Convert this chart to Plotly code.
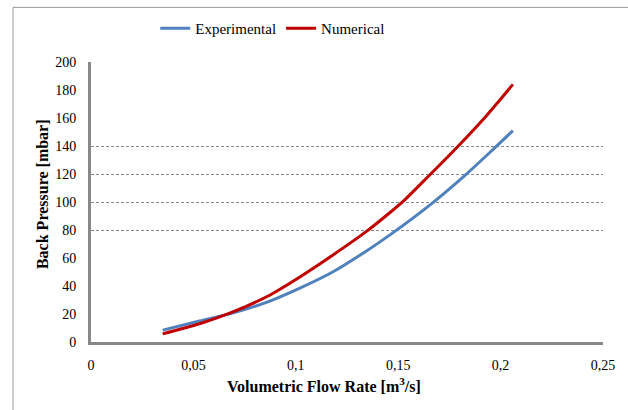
import plotly.graph_objects as go

# Data
exp_x = [0.035, 0.053, 0.069, 0.086, 0.102, 0.118, 0.1345, 0.146, 0.1665, 0.1826, 0.197, 0.206]
exp_y = [8.5, 15.0, 20.6, 28.5, 38.5, 50.0, 65.0, 76.5, 99.0, 119.0, 138.5, 151.0]

num_x = [0.035, 0.053, 0.069, 0.086, 0.102, 0.118, 0.1345, 0.146, 0.1528, 0.1655, 0.179, 0.193, 0.206]
num_y = [5.8, 13.0, 21.3, 32.5, 46.5, 62.0, 79.0, 92.5, 101.0, 119.5, 139.5, 161.5, 184.0]

x_ticks = [0, 0.05, 0.1, 0.15, 0.2, 0.25]
y_ticks = [0, 20, 40, 60, 80, 100, 120, 140, 160, 180, 200]
grid_ticks = [80, 100, 120, 140]

FONT = "Liberation Serif"

fig = go.Figure()
fig.add_trace(go.Scatter(x=exp_x, y=exp_y, mode="lines", name="Experimental",
                         line=dict(color="#4F81BD", width=3, shape="spline", smoothing=0.8)))
fig.add_trace(go.Scatter(x=num_x, y=num_y, mode="lines", name="Numerical",
                         line=dict(color="#C00000", width=3, shape="spline", smoothing=0.8)))
# invisible trace to carry the partial grid axis
fig.add_trace(go.Scatter(x=[exp_x[0]], y=[exp_y[0]], yaxis="y2", mode="markers",
                         marker=dict(opacity=0), showlegend=False, hoverinfo="skip"))

fig.update_layout(
    width=628, height=410,
    margin=dict(l=91, r=25, t=60, b=68),
    paper_bgcolor="white", plot_bgcolor="white",
    separators=", ",
    font=dict(family=FONT, size=14, color="black"),
    showlegend=True,
    legend=dict(orientation="h", x=0.355, xanchor="center", y=1.12, yanchor="middle",
                font=dict(family=FONT, size=15), bgcolor="rgba(0,0,0,0)"),
    xaxis=dict(range=[0, 0.25], tickvals=x_ticks, showgrid=False, zeroline=False,
               showline=True, linecolor="#888888", linewidth=3,
               ticks="", ticklabelstandoff=8,
               tickfont=dict(family=FONT, size=14)),
    yaxis=dict(range=[0, 200], tickvals=y_ticks, showgrid=False, zeroline=False,
               showline=True, linecolor="#888888", linewidth=3,
               ticks="", ticklabelstandoff=9,
               tickfont=dict(family=FONT, size=14)),
    yaxis2=dict(range=[0, 200], overlaying="y", tickvals=grid_ticks, showgrid=True,
                gridcolor="#888888", gridwidth=1, griddash="3px,2px",
                showticklabels=False, showline=False, zeroline=False, ticks=""),
    annotations=[
        dict(text="<b>Volumetric Flow Rate [m<sup>3</sup>/s]</b>", xref="paper", yref="paper",
             x=(324 - 91) / 512, y=-(385 - 342) / 282, xanchor="center", yanchor="middle",
             showarrow=False, font=dict(family=FONT, size=16)),
        dict(text="<b>Back Pressure [mbar]</b>", xref="paper", yref="paper",
             x=(42 - 91) / 512, y=(342 - 193) / 282, xanchor="center", yanchor="middle",
             textangle=-90, showarrow=False, font=dict(family=FONT, size=16)),
    ],
    shapes=[
        dict(type="rect", xref="paper", yref="paper",
             x0=(13 - 91) / 512, x1=(640 - 91) / 512,
             y0=-(420 - 342) / 282, y1=(342 - 5) / 282,
             line=dict(color="#999999", width=1), fillcolor="rgba(0,0,0,0)", layer="below"),
    ],
)

fig.write_html("out.html", config={"displayModeBar": False},
               post_script="document.body.style.margin='0';document.body.style.padding='0';")
